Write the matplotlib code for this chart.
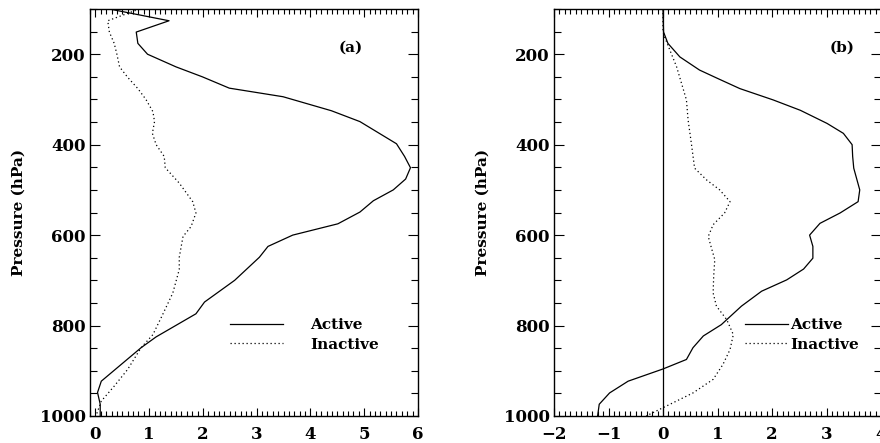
import matplotlib
matplotlib.use("Agg")
import matplotlib.pyplot as plt
from matplotlib.ticker import MultipleLocator, FixedLocator

# ---- Panel (a) data ----
a_active_x = [0.26, 1.37, 0.76, 0.79, 0.97, 1.50, 1.99, 2.49, 3.49, 4.39, 4.92, 5.60, 5.75, 5.86,
              5.77, 5.54, 5.17, 4.92, 4.51, 3.67, 3.21, 3.05, 2.59, 2.03, 1.87, 1.13, 0.85, 0.11,
              0.04, 0.09, 0.09]
a_active_p = [100, 126, 151, 176, 200, 228, 250, 275, 294, 325, 349, 398, 426, 451,
              476, 500, 524, 549, 575, 600, 625, 649, 700, 748, 774, 825, 849, 923,
              948, 974, 1000]
a_inactive_x = [0.82, 0.66, 0.23, 0.26, 0.35, 0.40, 0.45, 0.60, 0.79, 0.94, 1.07, 1.10, 1.06, 1.13,
                1.28, 1.30, 1.56, 1.81, 1.87, 1.78, 1.63, 1.56, 1.56, 1.44, 1.25, 1.07, 0.85,
                0.60, 0.35, 0.11, 0.01]
a_inactive_p = [100, 107, 126, 151, 176, 200, 228, 251, 276, 300, 327, 349, 375, 400,
                426, 451, 485, 526, 551, 581, 603, 649, 676, 728, 776, 820, 849,
                897, 934, 967, 1000]

# ---- Panel (b) data ----
b_active_x = [0.00, 0.01, 0.09, 0.31, 0.67, 1.01, 1.41, 2.02, 2.52, 3.01, 3.31, 3.47, 3.48, 3.50,
              3.61, 3.58, 3.25, 2.88, 2.69, 2.75, 2.75, 2.58, 2.27, 1.81, 1.44, 1.07, 0.74,
              0.55, 0.43, 0.00, -0.64, -0.98, -1.17, -1.20]
b_active_p = [100, 151, 176, 206, 235, 254, 276, 301, 324, 353, 375, 400, 426, 452,
              500, 526, 551, 574, 600, 625, 651, 675, 699, 724, 757, 798, 823,
              849, 875, 896, 923, 949, 974, 1000]
b_inactive_x = [0.00, 0.00, 0.03, 0.25, 0.43, 0.46, 0.52, 0.58, 0.80, 1.04, 1.23, 1.13, 0.92, 0.83,
                0.89, 0.95, 0.93, 0.92, 0.98, 1.17, 1.29, 1.23, 1.10, 0.92, 0.55, 0.18, -0.31]
b_inactive_p = [100, 150, 162, 228, 301, 345, 397, 452, 478, 500, 526, 551, 577, 603,
                629, 654, 691, 728, 757, 787, 820, 853, 886, 919, 949, 971, 1000]

y_ticks = [200, 400, 600, 800, 1000]
labels = ["Active", "Inactive"]
panel_tags = ["(a)", "(b)"]

plt.rcParams['font.family'] = ['DejaVu Serif']
plt.rcParams['font.weight'] = 'bold'

fig = plt.figure(figsize=(8.8, 4.43), dpi=100)
W, H = 880.0, 443.0
ax_a = fig.add_axes([90 / W, (H - 416) / H, 328 / W, 407 / H])
ax_b = fig.add_axes([554 / W, (H - 416) / H, 327 / W, 407 / H])

dot = (0, (1.0, 2.2))


def style(ax, xlim, xmajor):
    ax.set_xlim(*xlim)
    ax.set_ylim(1000, 100)
    ax.yaxis.set_major_locator(FixedLocator(y_ticks))
    ax.yaxis.set_minor_locator(MultipleLocator(50))
    ax.xaxis.set_major_locator(MultipleLocator(xmajor))
    ax.xaxis.set_minor_locator(MultipleLocator(0.1))
    ax.tick_params(which='both', direction='in', top=True, right=True, labelsize=12, width=0.8)
    ax.tick_params(which='major', length=6)
    ax.tick_params(which='minor', length=3.5)
    ax.tick_params(axis='y', which='minor', length=5)
    ax.tick_params(axis='y', which='major', length=7, pad=3)
    ax.tick_params(axis='x', pad=7)
    for s in ax.spines.values():
        s.set_linewidth(1.0)
    ax.set_ylabel("Pressure (hPa)", fontsize=11, fontweight='bold', labelpad=10)
    for lab in ax.get_xticklabels() + ax.get_yticklabels():
        lab.set_fontweight('bold')


# Panel (a)
ax_a.plot(a_active_x, a_active_p, color='black', lw=0.9, label=labels[0])
ax_a.plot(a_inactive_x, a_inactive_p, color='black', lw=0.9, linestyle=dot, label=labels[1])
style(ax_a, (-0.1, 6.0), 1)
ax_a.xaxis.set_major_formatter(plt.FuncFormatter(lambda v, p: f"{v:.0f}"))
ax_a.text(0.795, 0.905, panel_tags[0], transform=ax_a.transAxes, fontsize=11,
          fontweight='bold', ha='center', va='center')
ax_a.legend(loc='upper left', bbox_to_anchor=(0.427, 0.24), frameon=False, fontsize=11,
            handlelength=3.45, handletextpad=1.8, labelspacing=0.35, borderpad=0,
            borderaxespad=0)

# Panel (b)
ax_b.axvline(0, color='black', lw=0.9)
ax_b.plot(b_active_x, b_active_p, color='black', lw=0.9, label=labels[0])
ax_b.plot(b_inactive_x, b_inactive_p, color='black', lw=0.9, linestyle=dot, label=labels[1])
style(ax_b, (-2.0, 4.0), 1)
ax_b.xaxis.set_major_formatter(plt.FuncFormatter(lambda v, p: f"{v:.0f}".replace('-', '\u2212')))
ax_b.text(0.88, 0.905, panel_tags[1], transform=ax_b.transAxes, fontsize=11,
          fontweight='bold', ha='center', va='center')
ax_b.legend(loc='upper left', bbox_to_anchor=(0.584, 0.24), frameon=False, fontsize=11,
            handlelength=2.8, handletextpad=0.15, labelspacing=0.35, borderpad=0,
            borderaxespad=0)

fig.savefig("out.png", dpi=100)
